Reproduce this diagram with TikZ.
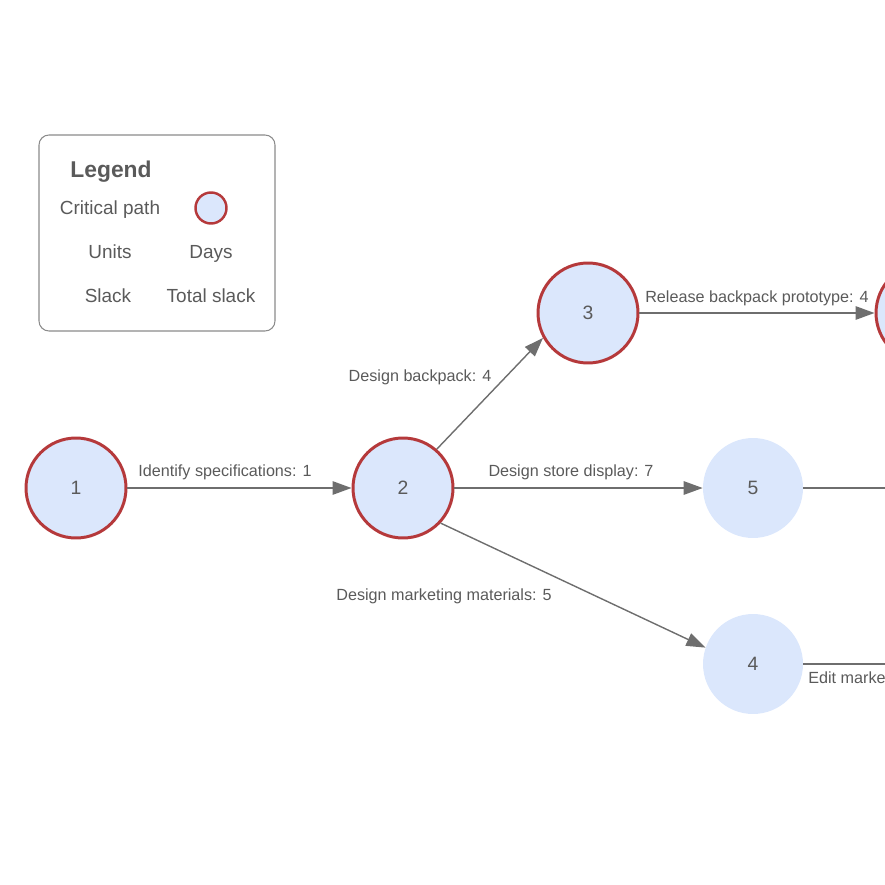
\documentclass[tikz,border=0pt]{standalone}
\usepackage{fontspec}
\setmainfont{Liberation Sans}
\usetikzlibrary{arrows.meta}
\definecolor{txtgray}{HTML}{5A5A5A}
\definecolor{edgegray}{HTML}{6E6E6E}
\definecolor{critred}{HTML}{B5393B}
\definecolor{nodefill}{HTML}{DBE7FC}
\tikzset{
  evt/.style={circle, fill=nodefill, minimum size=2cm, inner sep=0pt,
    text=txtgray, font=\fontsize{11}{13}\selectfont},
  crit/.style={evt, draw=critred, line width=1.7pt},
  act/.style={draw=edgegray, line width=0.8pt},
  actarrow/.style={act, -{Triangle[length=0.38cm,width=0.27cm]}},
  lbl/.style={text=txtgray, font=\fontsize{9.2}{11}\selectfont, inner sep=0pt,
    text height=0.72em, text depth=0em},
  leg/.style={text=txtgray, font=\fontsize{10.8}{13}\selectfont, inner sep=0pt,
    text height=0.72em, text depth=0em}
}
\begin{document}
\begin{tikzpicture}[x=0.02cm, y=-0.02cm]
      \useasboundingbox (0,0) rectangle (885,885);
      \clip (0,0) rectangle (885,885);

      % legend
      \draw[draw=edgegray!80, line width=0.6pt, rounded corners=0.2cm] (39,135) rectangle (275,331);
      \node[leg, font=\fontsize{13}{15}\selectfont\bfseries] (legtitle) at (111,171) {Legend};
      \node[leg] (legcrit) at (110,208) {Critical path};
      \node[crit, minimum size=0.62cm, line width=1.4pt] (legdot) at (211,208) {};
      \node[leg] (legunits) at (110,252) {Units};
      \node[leg] (legdays) at (211,252) {Days};
      \node[leg] (legslack) at (108,296) {Slack};
      \node[leg] (legtotal) at (211,296) {Total slack};

      % events
      \node[crit] (n1) at (76,488) {1};
      \node[crit] (n2) at (403,488) {2};
      \node[crit] (n3) at (588,313) {3};
      \node[evt] (n5) at (753,488) {5};
      \node[evt] (n4) at (753,664) {4};
      \node[crit] (n6) at (926,313) {};
      \coordinate (off5) at (900,488);
      \coordinate (off4) at (900,664);

      % activities
      \draw[actarrow] (n1) to (n2);
      \draw[actarrow] (n2.49) to (n3.209);
      \draw[actarrow] (n3) to (n6);
      \draw[actarrow] (n2) to (n5);
      \draw[actarrow] (n2.-43) to (n4.161);
      \draw[act] (n5) to (off5);
      \draw[act] (n4) to (off4);

      \node[lbl] (a12) at (225,470) {Identify specifications: 1};
      \node[lbl] (a23) at (420,375) {Design backpack: 4};
      \node[lbl] (a36) at (757,296) {Release backpack prototype: 4};
      \node[lbl] (a25) at (571,470) {Design store display: 7};
      \node[lbl] (a24) at (444,594) {Design marketing materials: 5};
      \node[lbl, anchor=west] (a4x) at (808,677) {Edit marketing materials};

\end{tikzpicture}
\end{document}
